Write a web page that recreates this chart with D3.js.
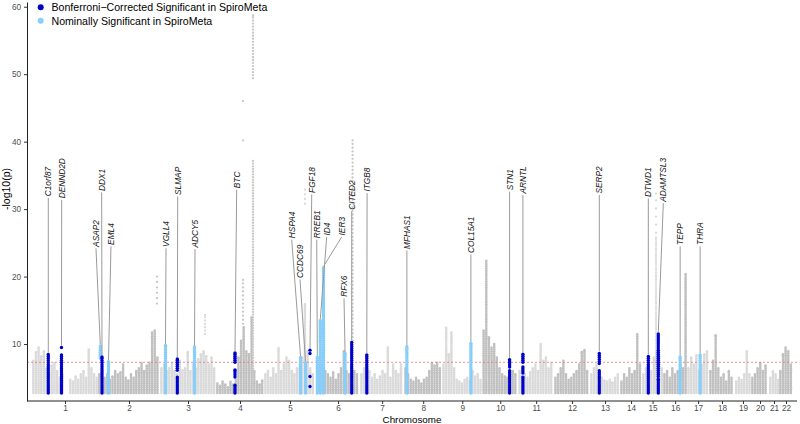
<!DOCTYPE html>
<html><head><meta charset="utf-8">
<script src="https://cdn.jsdelivr.net/npm/d3@7"></script>
<style>body{margin:0;background:#fff}svg{display:block;font-family:"Liberation Sans",Arial,Helvetica,sans-serif}</style>
</head><body>
<svg id="c" width="800" height="424"></svg>
<script>
// ---------------- data ----------------
const chromosomes = ["1","2","3","4","5","6","7","8","9","10","11","12","13","14","15","16","17","18","19","20","21","22"];
// effective plotted span of each chromosome (Mb)
const chrSpanMb = [250,235,212,182,197,167,167,144,152,136,136,136,114,83,80,91,83,98,61,68,38,53];
const binSizeMb = 10;
const floorLogP = 2.75;
// max -log10(p) of background SNPs per 10-Mb bin, per chromosome (0 = no SNPs)
const binMaxLogP = [
  [7.5,8.8,9.5,8.2,9.0,6.5,5.5,6.8,7.2,6.0,5.0,5.5,0,0,4.8,4.5,5.2,4.8,5.5,6.0,5.0,9.2,6.5,5.5,5.0],
  [5.5,6.0,5.0,5.5,4.8,5.2,6.0,5.5,5.8,7.0,5.0,4.6,5.5,5.0,6.0,6.5,7.2,6.0,6.8,7.3,11.8,12.0,8.0],
  [6.5,7.0,6.0,6.5,7.2,6.0,5.5,7.5,6.2,6.5,8.8,6.0,7.0,6.5,7.8,8.5,9.0,8.2,7.0,8.0,6.5],
  [4.2,3.8,4.5,4.0,3.6,4.4,4.0,4.8,8.0,10.5,12.5,9.0,8.5,14.0,6.0,4.5,4.0,4.6],
  [5.5,6.0,5.0,6.5,5.5,9.4,6.0,7.0,8.0,7.5,6.0,5.5,6.5,7.0,8.0,16.0,9.0,6.5,5.5],
  [6.0,7.0,8.5,6.0,5.5,5.0,5.8,4.8,5.5,6.5,9.0,6.0,5.5,10.0,6.0,5.5],
  [5.5,6.5,8.0,6.0,5.0,5.5,4.8,5.2,6.0,5.5,9.5,5.0,7.0,6.0,5.5,7.0],
  [6.5,5.5,4.8,4.5,5.0,4.6,4.2,4.8,5.0,6.0,7.2,6.8,7.3,6.5],
  [7.0,12.4,8.5,11.8,6.5,4.8,4.5,4.2,4.8,5.0,4.6,6.0,5.2,5.5,4.8],
  [12.0,22.4,11.0,9.5,10.0,8.0,6.5,5.5,5.2,5.0,5.5,6.0,5.5],
  [6.0,6.5,5.5,5.0,5.8,6.5,7.0,6.0,10.0,7.5,8.0,6.5,7.2],
  [5.0,5.5,6.5,7.6,5.5,4.8,5.0,5.5,6.0,7.0,8.8,9.1,6.0],
  [5.5,6.5,7.0,6.0,5.0,4.6,4.5,4.8,4.3,5.0,5.5],
  [4.5,5.5,5.0,6.5,5.5,6.0,11.5,7.0],
  [5.5,6.5,7.0,6.0,8.0,9.0,8.0,6.5],
  [5.5,6.0,5.0,6.5,5.5,6.0,7.0,6.5,20.5],
  [6.5,8.0,7.0,8.4,6.0,7.0,8.5,9.0],
  [6.0,7.5,11.3,6.5,5.0,5.5,4.5,6.0,5.0],
  [4.5,5.0,4.8,5.5,9.0,5.5],
  [5.0,5.5,6.5,7.2,6.0,6.8],
  [5.0,6.0,5.5,4.8],
  [6.0,8.5,9.5,9.0,7.0]
];
// strong background signals: [chr, posMb, lowest, highest, spacing of SNPs in -log10 units]
const greyPeaks = [
  ["2",223.5,16,20,0.8],
  ["3",170.5,11.5,14.3,0.5],
  ["4",102.3,13,19.5,0.6],
  ["4",102.3,40.2,40.2,1],
  ["4",102.3,46,46,1],
  ["4",140.2,2.75,37.2,0.4],
  ["4",140.2,49.4,58.7,0.45],
  ["5",155.3,30.8,33,0.7],
  ["6",138.5,10.5,40.2,0.55],
  ["15",53,2.75,25.8,0.35],
  ["15",53,26.5,32.3,1.2]
];
// highlighted loci: [gene, chr, posMb, class, SNP ranges [[lo,hi],...], labelPosMb, labelLogP]
const loci = [
  ["C1orf87","1",61.7,"bonf",[[2.75,8.5]],61.7,31.9],
  ["DENND2D","1",111.7,"bonf",[[2.75,8.4],[9.5,9.55]],112.5,31.6],
  ["ASAP2","2",8.7,"nom",[[7.9,9.7]],-7.6,24.4],
  ["DDX1","2",15.2,"bonf",[[2.75,8.1]],14.0,32.7],
  ["EML4","2",39.8,"nom",[[2.75,7.4]],49.2,24.7],
  ["VGLL4","3",20.8,"nom",[[2.75,9.8]],22.7,24.4],
  ["SLMAP","3",65.5,"bonf",[[2.75,5.1],[6.1,7.8]],67.0,32.1],
  ["ADCY5","3",130.7,"nom",[[2.75,9.6]],132.6,24.3],
  ["BTC","4",72.0,"bonf",[[2.75,3.9],[5.1,6.15],[7.3,8.7]],78.4,33.1],
  ["HSPA4","5",138.3,"nom",[[2.75,8.0]],104.9,25.7],
  ["CCDC69","5",157.2,"nom",[[2.75,7.2]],136.4,19.8],
  ["FGF18","5",174.2,"bonf",[[3.7,3.7],[5.2,5.2],[8.6,8.6],[9.1,9.1]],180.7,32.4],
  ["RREB1","6",4.9,"nom",[[2.75,8.1]],2.7,25.7],
  ["ID4","6",16.3,"nom",[[2.75,13.5]],40.5,26.1],
  ["IER3","6",28.4,"nom",[[2.75,21.3]],97.4,26.1],
  ["RFX6","6",109.9,"nom",[[2.75,8.6]],106.1,17.0],
  ["CITED2","6",135.2,"bonf",[[2.75,10.3]],135.2,29.9],
  ["ITGB8","7",25.4,"bonf",[[2.75,8.4]],26.5,32.6],
  ["MFHAS1","8",10.2,"nom",[[2.75,9.6]],10.2,24.1],
  ["COL15A1","9",108.7,"nom",[[2.75,10.1]],108.7,23.5],
  ["STN1","10",103.4,"bonf",[[2.75,6.1],[6.6,7.7]],103.4,32.8],
  ["ARNTL","11",17.8,"bonf",[[2.75,5.1],[5.7,6.6],[7.3,8.6]],17.8,32.3],
  ["SERP2","13",35.2,"bonf",[[2.75,6.1],[7.1,8.7]],35.2,32.3],
  ["DTWD1","15",23.9,"bonf",[[2.75,8.2]],23.9,31.8],
  ["ADAMTSL3","15",61.7,"bonf",[[2.75,4.8],[5.2,11.6]],80.7,31.1],
  ["TEPP","16",64.4,"nom",[[2.75,8.1]],64.4,24.7],
  ["THRA","17",49.2,"nom",[[2.75,8.4]],49.2,24.7]
];
const yTicks = [10,20,30,40,50,60];
const gwsThreshold = -Math.log10(5e-8);
const legendItems = [["bonf","Bonferroni\u2212Corrected Significant in SpiroMeta"],["nom","Nominally Significant in SpiroMeta"]];

// ---------------- drawing ----------------
const LIGHT="#DADADA", DARK="#C0C0C0", PEAK="#C8C8C8";
const classColor = {bonf:"#0000CD", nom:"#87CEFA"};
const svg = d3.select("#c");
const chrStart=[]; let acc=0; chrSpanMb.forEach(l=>{chrStart.push(acc); acc+=l;});
const totalMb = acc;
const x = d3.scaleLinear().domain([0,totalMb]).range([32,793]);
const y = d3.scaleLinear().domain([1.56,60.7]).range([401,2]);
const ci = c => chromosomes.indexOf(c);
const gx = (c,pos) => x(chrStart[ci(c)]+pos);
function stackVals(lo,hi,step){const out=[];for(let v=lo;v<=hi+1e-9;v+=step)out.push(v);if(out.length===0||Math.abs(out[out.length-1]-hi)>step*0.4)out.push(hi);return out;}

// background points
const bgPts=[];
binMaxLogP.forEach((arr,k)=>{
  const col = k%2===0?LIGHT:DARK;
  arr.forEach((top,b)=>{
    if(top<=0)return;
    const cx = x(chrStart[k]+b*binSizeMb+binSizeMb/2);
    stackVals(floorLogP,top,0.28).forEach(v=>bgPts.push({cx,v,col,r:1.3}));
  });
});
greyPeaks.forEach(([c,pos,lo,hi,step])=>{
  const col = ci(c)%2===0?LIGHT:PEAK;
  stackVals(lo,hi,step).forEach(v=>bgPts.push({cx:gx(c,pos),v,col,r:1.15}));
});
svg.append("g").selectAll("circle").data(bgPts).join("circle")
  .attr("cx",d=>d.cx).attr("cy",d=>y(d.v)).attr("r",d=>d.r).attr("fill",d=>d.col);

// threshold line
svg.append("line").attr("x1",27).attr("x2",797).attr("y1",y(gwsThreshold)).attr("y2",y(gwsThreshold))
  .attr("stroke","#E06666").attr("stroke-width",0.8).attr("stroke-dasharray","2,2").attr("opacity",0.85);

// highlighted loci
const hiPts=[];
loci.forEach(([g,c,pos,cls,ranges])=>{
  ranges.forEach(([lo,hi])=>stackVals(lo,hi,0.3).forEach(v=>hiPts.push({cx:gx(c,pos),v,cls})));
});
svg.append("g").selectAll("circle").data(hiPts).join("circle")
  .attr("cx",d=>d.cx).attr("cy",d=>y(d.v)).attr("r",1.7).attr("fill",d=>classColor[d.cls]);

// labels + segments
const lab = svg.append("g");
loci.forEach(([g,c,pos,cls,ranges,lpos,lv])=>{
  const top = d3.max(ranges,r=>r[1]);
  const px=gx(c,pos), py=y(top), lx=gx(c,lpos), ly=y(lv);
  lab.append("line").attr("x1",px).attr("y1",py-1.5).attr("x2",lx).attr("y2",ly+1.5)
    .attr("stroke","#9A9A9A").attr("stroke-width",1);
  lab.append("text").attr("transform",`translate(${lx},${ly}) rotate(-90)`)
    .attr("text-anchor","start").attr("dominant-baseline","central")
    .attr("font-size","8.3px").attr("font-style","italic").attr("fill","#1a1a1a").text(g);
});

// axes
const yAxis = d3.axisLeft(y).tickValues(yTicks).tickSize(3).tickSizeOuter(0);
const gy = svg.append("g").attr("transform","translate(27,0)").call(yAxis);
gy.select(".domain").attr("stroke","#222").attr("stroke-width",1);
gy.selectAll(".tick line").attr("stroke","#333");
gy.selectAll(".tick text").attr("font-size","8.2px").attr("fill","#4D4D4D").attr("font-family",null);

const chrMid = chromosomes.map((c,k)=>chrStart[k]+chrSpanMb[k]/2);
const xAxis = d3.axisBottom(x).tickValues(chrMid).tickFormat((d,i)=>chromosomes[i]).tickSize(3).tickPadding(1.5).tickSizeOuter(0);
const gxa = svg.append("g").attr("transform","translate(0,401)").call(xAxis);
gxa.select(".domain").remove();
gxa.selectAll(".tick line").attr("stroke","#333");
gxa.selectAll(".tick text").attr("font-size","8.2px").attr("fill","#4D4D4D").attr("font-family",null);
svg.append("line").attr("x1",27).attr("x2",797).attr("y1",401).attr("y2",401).attr("stroke","#222").attr("stroke-width",1);

svg.append("text").attr("x",412).attr("y",423).attr("text-anchor","middle").attr("font-size","9.8px").attr("fill","#000").text("Chromosome");
svg.append("text").attr("transform","translate(10,189) rotate(-90)").attr("text-anchor","middle").attr("font-size","10.5px").attr("fill","#000").text("-log10(p)");

// legend
const lg = svg.append("g");
legendItems.forEach(([cls,txt],i)=>{
  lg.append("circle").attr("cx",40.7).attr("cy",7.3+i*13.4).attr("r",3).attr("fill",classColor[cls]);
  lg.append("text").attr("x",51.5).attr("y",7.3+i*13.4).attr("dominant-baseline","central").attr("font-size","10.6px").attr("fill","#000").text(txt);
});
</script>
</body></html>
